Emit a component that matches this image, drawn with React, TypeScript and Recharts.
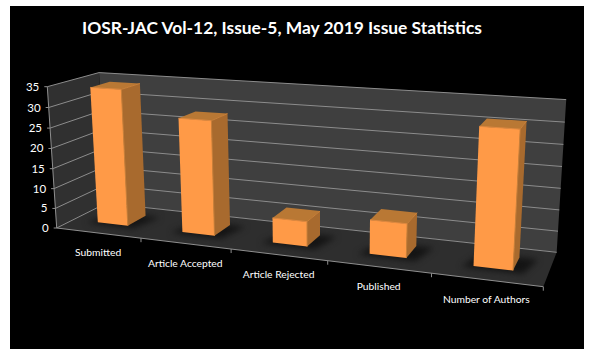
import React from 'react';
import { BarChart, Bar, XAxis, YAxis, CartesianGrid } from 'recharts';

const categories = ['Submitted', 'Article Accepted', 'Article Rejected', 'Published', 'Number of Authors'];
const counts = [34, 28, 6, 8, 31];
const yTicks = [0, 5, 10, 15, 20, 25, 30, 35];

const chartData = categories.map((name, i) => ({ name, count: counts[i] }));

// plot rectangle recharts works in, then bent onto the 3d box by project()
const PLOT = { left: 100, top: 80, width: 414, height: 200 };

// box corners, with perspective weights
const O = [56.7, 228];
const EX = [543.3, 286.7];
const EY = [47.3, 86.7];
const EZ = [106, 203.3];
const WX = 0.838;
const WY = 0.965;
const WZ = 1.0845;

const project = (u: number, v: number, z: number) => {
  const k = 1 - u - v - z;
  const w = k + WX * u + WY * v + WZ * z;
  return [
    (k * O[0] + WX * u * EX[0] + WY * v * EY[0] + WZ * z * EZ[0]) / w,
    (k * O[1] + WX * u * EX[1] + WY * v * EY[1] + WZ * z * EZ[1]) / w,
  ];
};

const toU = (x: number) => (x - PLOT.left) / PLOT.width;
const toV = (y: number) => (PLOT.top + PLOT.height - y) / PLOT.height;
const pts = (list: number[][]) => list.map((p) => `${p[0].toFixed(1)},${p[1].toFixed(1)}`).join(' ');

const BAR_Z0 = 0.33;
const BAR_Z1 = 0.72;
const FONT = 'Lato, sans-serif';

// bars sit a touch left of the band centres in the original
const barU = (x: number) => toU(x) * 1.006 - 0.005;

// walls and floor, sits under the chart svg
function Backdrop() {
  const frontEdge = [project(0, 0, 0), project(1, 0, 0)];
  return (
    <svg width={594} height={357} style={{ position: 'absolute', left: 0, top: 0 }}>
      <polygon points={pts([project(0, 0, 1), project(1, 0, 1), project(1, 1, 1), project(0, 1, 1)])} fill="#3f3f3f" />
      <polygon points={pts([project(0, 0, 0), project(0, 0, 1), project(0, 1, 1), project(0, 1, 0)])} fill="#303030" />
      <polygon points={pts([project(0, 0, 0), project(1, 0, 0), project(1, 0, 1), project(0, 0, 1)])} fill="#2e2e2e" />
      <polyline points={pts([project(0, 1, 0), project(0, 0, 0)])} stroke="#8f8f8f" fill="none" />
      <polyline points={pts(frontEdge)} stroke="#8f8f8f" fill="none" />
    </svg>
  );
}

function GridLine(props: any) {
  const v = toV(props.y1);
  return (
    <polyline
      key={props.key}
      points={pts([project(0, v, 0), project(0, v, 1), project(1, v, 1)])}
      stroke="#8c8c8c"
      strokeWidth={1}
      fill="none"
    />
  );
}

function ValueTick(props: any) {
  const p = project(0, toV(props.y), 0);
  return (
    <g>
      <line x1={p[0] - 3} y1={p[1]} x2={p[0]} y2={p[1]} stroke="#8f8f8f" />
      <text x={p[0] - 8} y={p[1] + 4} textAnchor="end" fill="#fff" fontSize={11.5} fontFamily={FONT}>
        {props.payload.value}
      </text>
    </g>
  );
}

function CategoryTick(props: any) {
  const band = 1 / categories.length;
  const u = toU(props.x);
  const c = project(u, 0, 0);
  const end = project(u + band / 2, 0, 0);
  return (
    <g>
      <line x1={end[0]} y1={end[1]} x2={end[0]} y2={end[1] + 4} stroke="#8f8f8f" />
      <text x={c[0]} y={c[1] + 23} textAnchor="middle" fill="#fff" fontSize={10.3} fontFamily={FONT}>
        {props.payload.value}
      </text>
    </g>
  );
}

function BoxBar(props: any) {
  const u0 = barU(props.x);
  const u1 = barU(props.x + props.width);
  const v = toV(props.y);
  const fbl = project(u0, 0, BAR_Z0);
  const fbr = project(u1, 0, BAR_Z0);
  const ftl = project(u0, v, BAR_Z0);
  const ftr = project(u1, v, BAR_Z0);
  const bbr = project(u1, 0, BAR_Z1);
  const btr = project(u1, v, BAR_Z1);
  const btl = project(u0, v, BAR_Z1);
  const shadow = [
    project(u0 - 0.02, 0, BAR_Z0 - 0.06),
    project(u1 + 0.02, 0, BAR_Z0 - 0.06),
    project(u1 + 0.035, 0, BAR_Z1),
    project(u0, 0, BAR_Z1),
  ];
  return (
    <g>
      <polygon points={pts(shadow)} fill="#141414" style={{ filter: 'blur(3px)' }} />
      <polygon points={pts([fbr, bbr, btr, ftr])} fill="#a86a2e" />
      <polygon points={pts([ftl, ftr, btr, btl])} fill="#b97834" />
      <polygon points={pts([fbl, fbr, ftr, ftl])} fill="#ff9a47" />
      {/* soft bevel along the near edges */}
      <polyline points={pts([fbr, ftr, btr])} stroke="#c98039" strokeWidth={1} fill="none" />
      <line x1={ftl[0]} y1={ftl[1]} x2={ftr[0]} y2={ftr[1]} stroke="#e08a40" strokeWidth={1} />
    </g>
  );
}

export default function App() {
  return (
    <div style={{ position: 'absolute', left: 0, top: 0, width: 594, height: 357, background: '#fff', overflow: 'hidden' }}>
      <div style={{ position: 'absolute', left: 10, top: 6, width: 574, height: 343, background: '#000' }} />
      <Backdrop />
      <div style={{ position: 'absolute', left: 0, top: 0 }}>
        <BarChart
          width={594}
          height={357}
          data={chartData}
          barCategoryGap="32%"
          margin={{ top: PLOT.top, right: 594 - PLOT.left - PLOT.width, left: 0, bottom: 0 }}
        >
          <text x={282} y={34} textAnchor="middle" fill="#fff" fontSize={17.4} fontWeight="bold" fontFamily={FONT}>
            IOSR-JAC Vol-12, Issue-5, May 2019 Issue Statistics
          </text>
          <CartesianGrid vertical={false} horizontal={GridLine as any} />
          <XAxis dataKey="name" height={357 - PLOT.top - PLOT.height} axisLine={false} tickLine={false} interval={0} tick={CategoryTick as any} />
          <YAxis width={PLOT.left} domain={[0, 35]} ticks={yTicks} interval={0} axisLine={false} tickLine={false} tick={ValueTick as any} />
          <Bar dataKey="count" isAnimationActive={false} shape={BoxBar as any} />
        </BarChart>
      </div>
    </div>
  );
}
